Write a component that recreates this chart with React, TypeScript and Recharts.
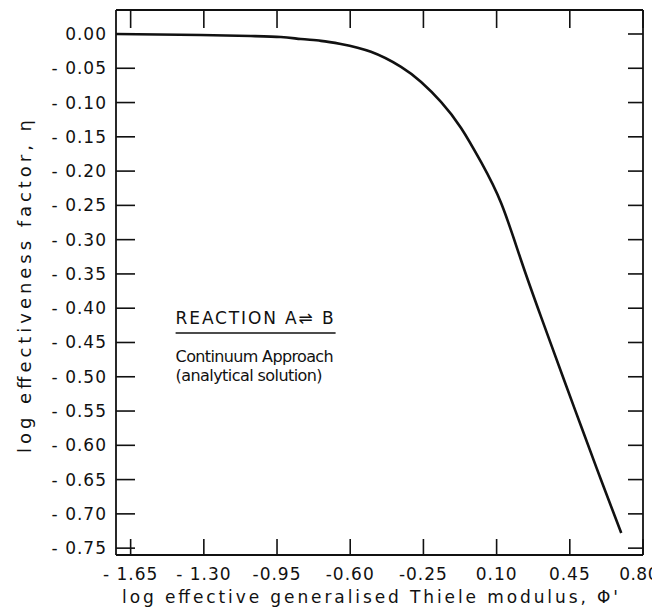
import React from "react";
import { LineChart, Line, XAxis, YAxis, ReferenceDot } from "recharts";

const phiValues = [-1.72, -1.315, -1.075, -0.932, -0.836, -0.74, -0.645, -0.501, -0.357, -0.261, -0.166, -0.07, 0.026, 0.122, 0.217, 0.313, 0.423, 0.505, 0.6, 0.696];
const etaValues = [0, -0.0015, -0.003, -0.0044, -0.0073, -0.01, -0.0146, -0.026, -0.048, -0.07, -0.099, -0.137, -0.187, -0.247, -0.33, -0.413, -0.505, -0.573, -0.651, -0.728];

const xTicks = [-1.65, -1.3, -0.95, -0.6, -0.25, 0.1, 0.45, 0.8];
const xTickLabels = ["- 1.65", "- 1.30", "-0.95", "-0.60", "-0.25", "0.10", "0.45", "0.80"];
const yTicks = [0, -0.05, -0.1, -0.15, -0.2, -0.25, -0.3, -0.35, -0.4, -0.45, -0.5, -0.55, -0.6, -0.65, -0.7, -0.75];
const yTickLabels = ["0.00", "- 0.05", "- 0.10", "- 0.15", "- 0.20", "- 0.25", "- 0.30", "- 0.35", "- 0.40", "- 0.45", "- 0.50", "- 0.55", "- 0.60", "- 0.65", "- 0.70", "- 0.75"];

const xDomain = [-1.72, 0.8];
const yDomain = [-0.76, 0.035];

const annotationAnchor = { x: -1.435, y: -0.423 };
const annotationLines = ["REACTION A\u21CC B", "Continuum Approach", "(analytical solution)"];

const data = phiValues.map((p, i) => ({ phi: p, eta: etaValues[i] }));

const FONT = "'DejaVu Sans', sans-serif";
const INK = "#111";

const BottomTick = (props: any) => {
  const { x, y, payload, index } = props;
  const i = xTicks.indexOf(payload.value);
  const idx = i >= 0 ? i : index;
  const isLast = idx === xTicks.length - 1;
  return (
    <g>
      <line x1={x} x2={x} y1={y} y2={y - 16} stroke={INK} strokeWidth={1.6} />
      <text
        x={isLast ? x + 16 : x}
        y={y + 25}
        textAnchor={isLast ? "end" : "middle"}
        fontFamily={FONT}
        fontSize={17}
        letterSpacing={isLast ? 0.5 : 1}
        fill={INK}
      >
        {xTickLabels[idx]}
      </text>
    </g>
  );
};

const TopTick = (props: any) => {
  const { x, y } = props;
  return <line x1={x} x2={x} y1={y} y2={y + 18} stroke={INK} strokeWidth={1.6} />;
};

const LeftTick = (props: any) => {
  const { x, y, payload, index } = props;
  const i = yTicks.indexOf(payload.value);
  return (
    <g>
      <line x1={x} x2={x + 19} y1={y} y2={y} stroke={INK} strokeWidth={1.6} />
      <text x={x - 9} y={y + 6} textAnchor="end" fontFamily={FONT} fontSize={17} letterSpacing={1} fill={INK}>
        {yTickLabels[i >= 0 ? i : index]}
      </text>
    </g>
  );
};

const RightTick = (props: any) => {
  const { x, y } = props;
  return <line x1={x} x2={x - 15} y1={y} y2={y} stroke={INK} strokeWidth={1.6} />;
};

const XLabel = (props: any) => {
  const vb = props.viewBox || {};
  return (
    <text x={vb.x + 6} y={vb.y + 48} fontFamily={FONT} fontSize={17} textLength={496} lengthAdjust="spacing" fill={INK}>
      log effective generalised Thiele modulus, {"\u03A6'"}
    </text>
  );
};

const YLabel = (props: any) => {
  const vb = props.viewBox || {};
  const cx = vb.x + 23;
  const cy = vb.y + vb.height / 2 + 4;
  return (
    <text
      x={cx}
      y={cy}
      transform={`rotate(-90, ${cx}, ${cy})`}
      textAnchor="middle"
      fontFamily={FONT}
      fontSize={18}
      textLength={333}
      lengthAdjust="spacing"
      fill={INK}
    >
      log effectiveness factor, {"\u03B7"}
    </text>
  );
};

const Annotation = (props: any) => {
  const { cx, cy } = props;
  return (
    <g fill={INK} fontFamily={FONT}>
      <text x={cx} y={cy} fontSize={17} textLength={158} lengthAdjust="spacing">{annotationLines[0]}</text>
      <line x1={cx} x2={cx + 160} y1={cy + 9} y2={cy + 9} stroke={INK} strokeWidth={1.4} />
      <text x={cx} y={cy + 38} fontSize={16} textLength={158} lengthAdjust="spacing">{annotationLines[1]}</text>
      <text x={cx} y={cy + 57} fontSize={16} textLength={147} lengthAdjust="spacing">{annotationLines[2]}</text>
    </g>
  );
};

export default function App() {
  return (
    <div style={{ width: 652, height: 602, background: "#fff" }}>
      <LineChart width={652} height={602} data={data} margin={{ top: 0, right: 0, bottom: 0, left: 0 }}>
        <XAxis
          xAxisId="bottom"
          dataKey="phi"
          type="number"
          domain={xDomain}
          ticks={xTicks}
          allowDataOverflow
          orientation="bottom"
          height={55}
          tickSize={0}
          tickMargin={0}
          tickLine={false}
          axisLine={{ stroke: INK, strokeWidth: 1.8 }}
          tick={<BottomTick />}
          interval={0}
          label={<XLabel />}
        />
        <XAxis
          xAxisId="top"
          dataKey="phi"
          type="number"
          domain={xDomain}
          ticks={xTicks}
          allowDataOverflow
          orientation="top"
          height={2}
          tickSize={0}
          tickMargin={0}
          tickLine={false}
          axisLine={{ stroke: INK, strokeWidth: 1.8 }}
          tick={<TopTick />}
          interval={0}
        />
        <YAxis
          yAxisId="left"
          type="number"
          domain={yDomain}
          ticks={yTicks}
          allowDataOverflow
          orientation="left"
          width={108}
          tickSize={0}
          tickMargin={0}
          tickLine={false}
          axisLine={{ stroke: INK, strokeWidth: 1.8 }}
          tick={<LeftTick />}
          interval={0}
          label={<YLabel />}
        />
        <YAxis
          yAxisId="right"
          type="number"
          domain={yDomain}
          ticks={yTicks}
          allowDataOverflow
          orientation="right"
          width={17}
          tickSize={0}
          tickMargin={0}
          tickLine={false}
          axisLine={{ stroke: INK, strokeWidth: 1.8 }}
          tick={<RightTick />}
          interval={0}
        />
        <Line
          xAxisId="bottom"
          yAxisId="left"
          dataKey="eta"
          type="natural"
          stroke={INK}
          strokeWidth={2.6}
          dot={false}
          isAnimationActive={false}
        />
        <ReferenceDot
          xAxisId="bottom"
          yAxisId="left"
          x={annotationAnchor.x}
          y={annotationAnchor.y}
          r={0}
          shape={<Annotation />}
        />
      </LineChart>
    </div>
  );
}
